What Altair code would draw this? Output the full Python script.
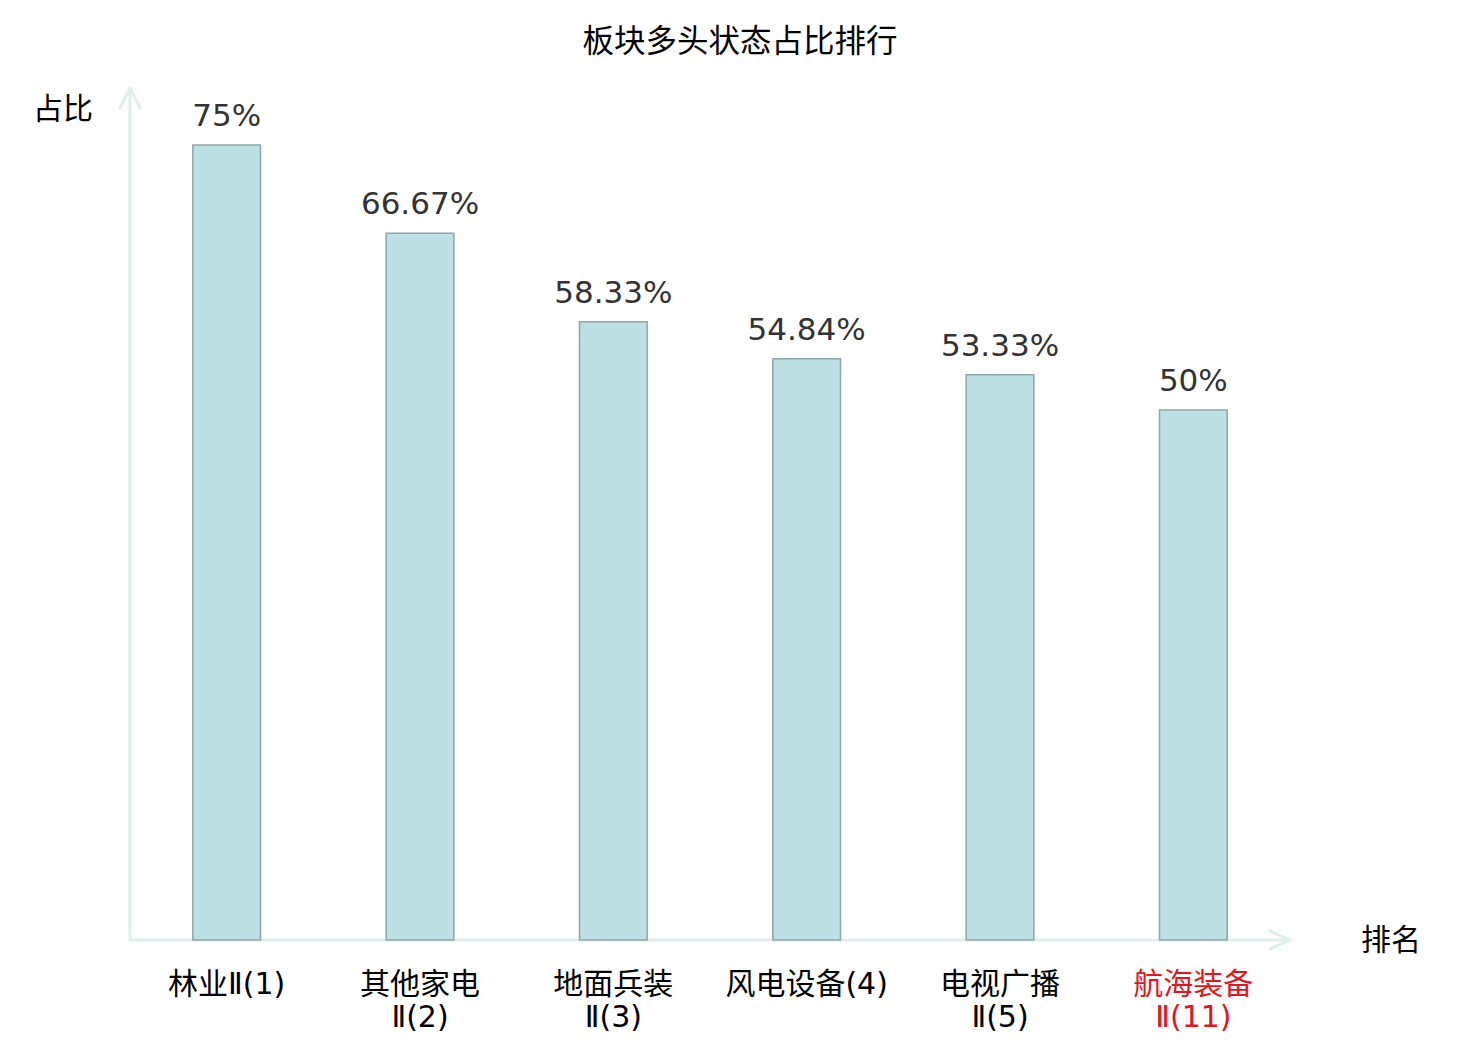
import altair as alt
import pandas as pd

categories = ["林业Ⅱ(1)", "其他家电Ⅱ(2)", "地面兵装Ⅱ(3)", "风电设备(4)", "电视广播Ⅱ(5)", "航海装备Ⅱ(11)"]
display_labels = ["林业Ⅱ(1)", "其他家电|Ⅱ(2)", "地面兵装|Ⅱ(3)", "风电设备(4)", "电视广播|Ⅱ(5)", "航海装备|Ⅱ(11)"]
values = [75, 66.67, 58.33, 54.84, 53.33, 50]
highlight = "航海装备Ⅱ(11)"

df = pd.DataFrame({"cat": categories, "v": values, "disp": display_labels})

W, H = 1160, 848
AXIS_COLOR = "#dcf1ee"
CJK = "Noto Sans CJK SC"

label_map = "{" + ",".join(f"'{c}':'{d}'" for c, d in zip(categories, display_labels)) + "}"

x_enc = alt.X(
    "cat:N",
    sort=categories,
    scale=alt.Scale(paddingInner=0.65, paddingOuter=0.325),
    axis=alt.Axis(
        title=None,
        domain=False,
        ticks=False,
        labelAngle=0,
        labelFont="DejaVu Sans, Noto Sans CJK SC",
        labelFontSize=30,
        labelPadding=29,
        labelLineHeight=33,
        labelExpr=f"split({label_map}[datum.value], '|')",
        labelColor={"condition": {"test": f"datum.value == '{highlight}'", "value": "#e8141b"}, "value": "#000000"},
    ),
)
y_enc = alt.Y("v:Q", scale=alt.Scale(domain=[0, 80], nice=False), axis=None)

base = alt.Chart(df)

bars = base.mark_bar(fill="#bce0e3", stroke="#8ea8a9", strokeWidth=1.5, width={"band": 1}).encode(
    x=x_enc, y=y_enc
)

labels = base.transform_calculate(
    lab="format(datum.v, '.4~') + '%'"
).mark_text(font="DejaVu Sans", fontSize=31, color="#333333", baseline="alphabetic", dy=-19).encode(
    x=alt.X("cat:N", sort=categories), y="v:Q", text="lab:N"
)

one = alt.Data(values=[{"a": 1}])

def seg(x1, y1, x2, y2):
    return alt.Chart(one).mark_rule(color=AXIS_COLOR, strokeWidth=3, strokeCap="round").encode(
        x=alt.value(x1), y=alt.value(y1), x2=alt.value(x2), y2=alt.value(y2)
    )

axes = [
    seg(0, H, 0, -4),
    seg(-10, 16, 0, -4),
    seg(10, 16, 0, -4),
    seg(0, H, W, H),
    seg(W - 20, H - 9, W, H),
    seg(W - 20, H + 9, W, H),
]

def txt(s, x, y, size=30, font=CJK, color="#000000"):
    return alt.Chart(one).mark_text(text=s, font=font, fontSize=size, color=color, baseline="middle", align="center").encode(
        x=alt.value(x), y=alt.value(y)
    )

title = txt("板块多头状态占比排行", 610, -49, size=31.5)
ytitle = txt("占比", -67, 18)
xtitle = txt("排名", 1261, 849)

chart = alt.layer(*axes, bars, labels, title, ytitle, xtitle).resolve_scale(x="shared").properties(
    width=W,
    height=H,
    autosize=alt.AutoSizeParams(type="none"),
    padding={"left": 122, "top": 84, "right": 182, "bottom": 92},
).configure_view(stroke=None)

chart.save("out.html", embed_options={"renderer": "svg", "actions": False})
